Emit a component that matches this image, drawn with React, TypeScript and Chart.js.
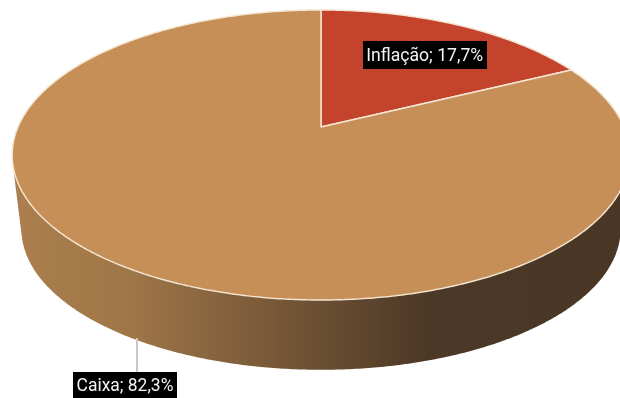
import React, { useEffect, useRef } from "react";
import { Chart, registerables } from "chart.js";

Chart.register(...registerables);

// ---- data ----
const categories = ["Inflação", "Caixa"];
const shares = [17.7, 82.3];
const sliceColors = ["#C4432D", "#C58F57"];
const rimColor = "#F4E6D2";

// ---- perspective projection of the pie disc (tilted 3D look) ----
const CX = 321;
const CY = 127;
const PA = 303;
const PB = 139.6;
const PC = -0.193;
const DEPTH = 75;
const BOT_SCALE = 0.97;

function proj(u: number, v: number, bottom = false): [number, number] {
  const d = 1 + PC * v;
  if (!bottom) return [CX + (PA * u) / d, CY + (PB * v) / d];
  return [CX + (BOT_SCALE * PA * u) / d, CY + DEPTH + (BOT_SCALE * PB * v) / d];
}

function cross(o: number[], a: number[], b: number[]) {
  return (a[0] - o[0]) * (b[1] - o[1]) - (a[1] - o[1]) * (b[0] - o[0]);
}

function convexHull(points: [number, number][]) {
  const pts = points.slice().sort((a, b) => (a[0] === b[0] ? a[1] - b[1] : a[0] - b[0]));
  const lower: [number, number][] = [];
  for (const p of pts) {
    while (lower.length >= 2 && cross(lower[lower.length - 2], lower[lower.length - 1], p) <= 0) lower.pop();
    lower.push(p);
  }
  const upper: [number, number][] = [];
  for (let i = pts.length - 1; i >= 0; i--) {
    const p = pts[i];
    while (upper.length >= 2 && cross(upper[upper.length - 2], upper[upper.length - 1], p) <= 0) upper.pop();
    upper.push(p);
  }
  upper.pop();
  lower.pop();
  return lower.concat(upper);
}

function fmt(v: number) {
  return v.toFixed(1).replace(".", ",") + "%";
}

// text scaled to the width it has in the reference (Calibri-like metrics)
function drawLabel(ctx: CanvasRenderingContext2D, text: string, cx: number, cy: number, textW: number) {
  ctx.save();
  ctx.font = '16px Roboto, "Noto Sans", sans-serif';
  const m = ctx.measureText(text).width;
  const size = Math.min(18, Math.max(12, (16 * textW) / m));
  ctx.font = `${size.toFixed(2)}px Roboto, "Noto Sans", sans-serif`;
  const w = ctx.measureText(text).width;
  const bw = w + 7;
  const bh = 28;
  ctx.fillStyle = "#000000";
  ctx.fillRect(Math.round(cx - bw / 2), Math.round(cy - bh / 2), Math.round(bw), bh);
  ctx.fillStyle = "#F4F4F4";
  ctx.textAlign = "center";
  ctx.textBaseline = "middle";
  ctx.fillText(text, cx, cy + 1);
  ctx.restore();
}

const pie3d = {
  id: "pie3d",
  beforeDatasetsDraw(chart: any) {
    const ctx: any = chart.ctx;
    const meta = chart.getDatasetMeta(0);
    const el: any = meta.data[0];
    const ox = el.x;
    const oy = el.y;
    const R = el.outerRadius;

    // side wall of the 3D pie
    const pts: [number, number][] = [];
    for (let i = 0; i < 720; i++) {
      const a = (i / 720) * Math.PI * 2;
      pts.push(proj(Math.cos(a), Math.sin(a), false));
      pts.push(proj(Math.cos(a), Math.sin(a), true));
    }
    const hull = convexHull(pts);
    const grad = ctx.createLinearGradient(0, 0, 620, 0);
    grad.addColorStop(0, "#AD804E");
    grad.addColorStop(0.21, "#9F7648");
    grad.addColorStop(0.5, "#6D5134");
    grad.addColorStop(0.69, "#4C3826");
    grad.addColorStop(1, "#4A3624");
    ctx.save();
    ctx.beginPath();
    ctx.rect(0, CY + 20, 620, 400);
    ctx.clip();
    ctx.beginPath();
    hull.forEach((p, i) => (i === 0 ? ctx.moveTo(p[0], p[1]) : ctx.lineTo(p[0], p[1])));
    ctx.closePath();
    ctx.fillStyle = grad;
    ctx.fill();
    ctx.restore();

    // route the library's arc paths through the perspective projection
    const orig = {
      arc: ctx.arc,
      moveTo: ctx.moveTo,
      lineTo: ctx.lineTo,
    };
    const P = (x: number, y: number) => proj((x - ox) / R, (y - oy) / R);
    ctx.moveTo = function (x: number, y: number) {
      if (!Number.isFinite(x) || !Number.isFinite(y)) return;
      const p = P(x, y);
      orig.moveTo.call(ctx, p[0], p[1]);
    };
    ctx.lineTo = function (x: number, y: number) {
      if (!Number.isFinite(x) || !Number.isFinite(y)) return;
      const p = P(x, y);
      orig.lineTo.call(ctx, p[0], p[1]);
    };
    ctx.arc = function (x: number, y: number, r: number, a0: number, a1: number, ccw?: boolean) {
      if (![x, y, r, a0, a1].every(Number.isFinite)) return;
      let span = a1 - a0;
      const TAU = Math.PI * 2;
      if (!ccw) {
        if (span >= TAU) span = TAU;
        else while (span < 0) span += TAU;
      } else {
        if (span <= -TAU) span = -TAU;
        else while (span > 0) span -= TAU;
      }
      const n = Math.max(2, Math.ceil(Math.abs(span) / (Math.PI / 360)));
      for (let i = 0; i <= n; i++) {
        const a = a0 + (span * i) / n;
        const p = P(x + r * Math.cos(a), y + r * Math.sin(a));
        orig.lineTo.call(ctx, p[0], p[1]);
      }
    };
  },
  afterDatasetsDraw(chart: any) {
    const ctx: any = chart.ctx;
    delete ctx.arc;
    delete ctx.moveTo;
    delete ctx.lineTo;

    const meta = chart.getDatasetMeta(0);
    // label inside the small slice
    const e0: any = meta.data[0];
    const mid = (e0.startAngle + e0.endAngle) / 2;
    const [lx, ly] = proj(0.72 * Math.cos(mid), 0.72 * Math.sin(mid) + 0.04);
    drawLabel(ctx, `${categories[0]}; ${fmt(shares[0])}`, lx, ly, 117);

    // leader line + label below the big slice
    ctx.save();
    ctx.strokeStyle = "#C8C8C8";
    ctx.lineWidth = 2;
    ctx.beginPath();
    ctx.moveTo(137, 338);
    ctx.lineTo(137, 372);
    ctx.stroke();
    ctx.restore();
    drawLabel(ctx, `${categories[1]}; ${fmt(shares[1])}`, 125, 386, 97);
  },
};

export default function App() {
  const ref = useRef<HTMLCanvasElement | null>(null);
  useEffect(() => {
    if (!ref.current) return;
    const chart = new Chart(ref.current, {
      type: "pie",
      data: {
        labels: categories,
        datasets: [
          {
            data: shares,
            backgroundColor: sliceColors,
            borderColor: rimColor,
            borderWidth: 1.5,
          },
        ],
      },
      options: {
        responsive: false,
        animation: false,
        events: [],
        layout: { padding: 0 },
        plugins: {
          legend: { display: false },
          tooltip: { enabled: false },
        },
      },
      plugins: [pie3d as any],
    });
    return () => chart.destroy();
  }, []);
  return (
    <div style={{ position: "fixed", left: 0, top: 0, width: 620, height: 398, background: "#FFFFFF" }}>
      <canvas ref={ref} width={620} height={398} style={{ display: "block" }} />
    </div>
  );
}
